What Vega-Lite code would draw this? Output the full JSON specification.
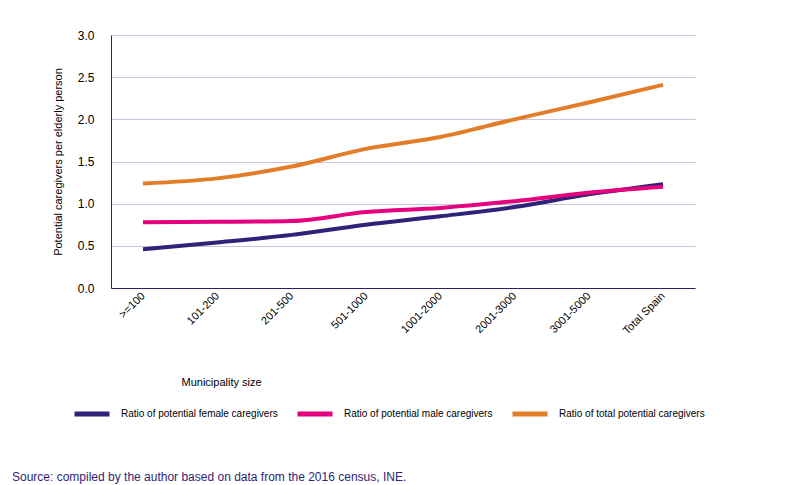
{
  "$schema": "https://vega.github.io/schema/vega-lite/v6.json",
  "width": 584,
  "height": 253,
  "autosize": {"type": "none"},
  "padding": {"left": 111, "top": 35, "right": 105, "bottom": 197},
  "background": "white",
  "config": {
    "font": "Liberation Sans",
    "view": {"stroke": null}
  },
  "title": {
    "text": "Source: compiled by the author based on data from the 2016 census, INE.",
    "orient": "top",
    "anchor": "start",
    "frame": "group",
    "dx": -99,
    "dy": 455,
    "offset": 0,
    "font": "Liberation Sans",
    "fontSize": 12,
    "fontWeight": "normal",
    "color": "#2f1f78"
  },
  "data": {
    "values": [
      {"size": ">=100", "series": "Ratio of potential female caregivers", "value": 0.46},
      {"size": "101-200", "series": "Ratio of potential female caregivers", "value": 0.54},
      {"size": "201-500", "series": "Ratio of potential female caregivers", "value": 0.63},
      {"size": "501-1000", "series": "Ratio of potential female caregivers", "value": 0.75},
      {"size": "1001-2000", "series": "Ratio of potential female caregivers", "value": 0.85},
      {"size": "2001-3000", "series": "Ratio of potential female caregivers", "value": 0.96},
      {"size": "3001-5000", "series": "Ratio of potential female caregivers", "value": 1.11},
      {"size": "Total Spain", "series": "Ratio of potential female caregivers", "value": 1.23},
      {"size": ">=100", "series": "Ratio of potential male caregivers", "value": 0.78},
      {"size": "101-200", "series": "Ratio of potential male caregivers", "value": 0.785},
      {"size": "201-500", "series": "Ratio of potential male caregivers", "value": 0.795},
      {"size": "501-1000", "series": "Ratio of potential male caregivers", "value": 0.9},
      {"size": "1001-2000", "series": "Ratio of potential male caregivers", "value": 0.95},
      {"size": "2001-3000", "series": "Ratio of potential male caregivers", "value": 1.03},
      {"size": "3001-5000", "series": "Ratio of potential male caregivers", "value": 1.13},
      {"size": "Total Spain", "series": "Ratio of potential male caregivers", "value": 1.2},
      {"size": ">=100", "series": "Ratio of total potential caregivers", "value": 1.24},
      {"size": "101-200", "series": "Ratio of total potential caregivers", "value": 1.3},
      {"size": "201-500", "series": "Ratio of total potential caregivers", "value": 1.44},
      {"size": "501-1000", "series": "Ratio of total potential caregivers", "value": 1.65},
      {"size": "1001-2000", "series": "Ratio of total potential caregivers", "value": 1.79},
      {"size": "2001-3000", "series": "Ratio of total potential caregivers", "value": 2.0},
      {"size": "3001-5000", "series": "Ratio of total potential caregivers", "value": 2.2},
      {"size": "Total Spain", "series": "Ratio of total potential caregivers", "value": 2.41}
    ]
  },
  "mark": {"type": "line", "strokeWidth": 4, "interpolate": "monotone"},
  "encoding": {
    "x": {
      "field": "size",
      "type": "ordinal",
      "sort": null,
      "scale": {"type": "point", "padding": 0.43},
      "axis": {
        "title": "Municipality size",
        "titleFontSize": 11,
        "titleFontWeight": "normal",
        "titleColor": "#000000",
        "titleAnchor": "start",
        "titleAlign": "left",
        "titleBaseline": "middle",
        "titleX": 70,
        "titleY": 94,
        "labelAngle": -45,
        "labelAlign": "right",
        "labelBaseline": "middle",
        "labelFontSize": 11,
        "labelColor": "#000000",
        "labelPadding": 6,
        "ticks": false,
        "domainColor": "#2a1e6e",
        "domainWidth": 1,
        "grid": false
      }
    },
    "y": {
      "field": "value",
      "type": "quantitative",
      "scale": {"domain": [0, 3]},
      "axis": {
        "title": "Potential caregivers per elderly person",
        "titleFontSize": 11,
        "titleFontWeight": "normal",
        "titleColor": "#000000",
        "titlePadding": 14,
        "values": [0, 0.5, 1, 1.5, 2, 2.5, 3],
        "format": ".1f",
        "labelFontSize": 12,
        "labelColor": "#000000",
        "labelPadding": 17,
        "ticks": false,
        "domainColor": "#2a1e6e",
        "domainWidth": 1,
        "gridColor": "#c9c5dd",
        "gridWidth": 1
      }
    },
    "color": {
      "field": "series",
      "type": "nominal",
      "scale": {
        "domain": ["Ratio of potential female caregivers", "Ratio of potential male caregivers", "Ratio of total potential caregivers"],
        "range": ["#2e2378", "#e5007e", "#e27d2a"]
      },
      "legend": {
        "title": null,
        "orient": "none",
        "legendX": -39,
        "legendY": 359,
        "direction": "horizontal",
        "columns": 3,
        "columnPadding": 9,
        "symbolType": "stroke",
        "symbolSize": 1225,
        "symbolStrokeWidth": 5,
        "labelFontSize": 10,
        "labelColor": "#000000",
        "labelOffset": 9,
        "labelLimit": 300
      }
    }
  }
}
